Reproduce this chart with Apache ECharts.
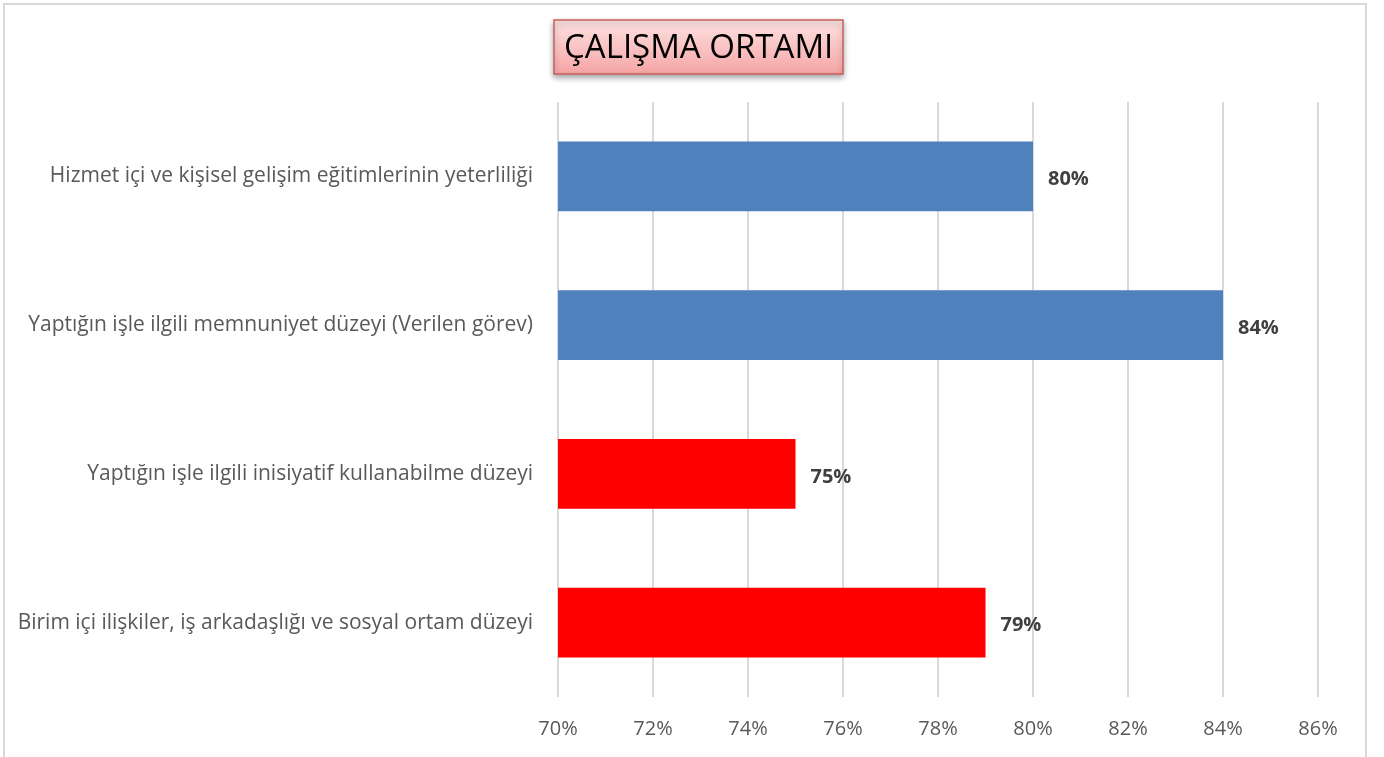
<!DOCTYPE html>
<html>
<head>
<meta charset="utf-8">
<style>
  html, body { margin: 0; padding: 0; background: #fff; }
  #frame { position: absolute; left: 3px; top: 3px; width: 1364px; height: 760px; border: 2px solid #d9d9d9; box-sizing: border-box; }
  #chart { position: absolute; left: 0; top: 0; width: 1384px; height: 757px; }
</style>
</head>
<body>
<div id="frame"></div>
<div id="chart"></div>
<script src="https://cdn.jsdelivr.net/npm/echarts@6/dist/echarts.min.js"></script>
<script type="text/javascript">
    // categories from bottom to top (as drawn on the y axis)
    const categories = [
        'Birim içi ilişkiler, iş arkadaşlığı ve sosyal ortam düzeyi',
        'Yaptığın işle ilgili inisiyatif kullanabilme düzeyi',
        'Yaptığın işle ilgili memnuniyet düzeyi (Verilen görev)',
        'Hizmet içi ve kişisel gelişim eğitimlerinin yeterliliği'
    ];
    const values = [79, 75, 84, 80];
    const barColors = ['#ff0000', '#ff0000', '#4f81bd', '#4f81bd'];
    const chartTitle = 'ÇALIŞMA ORTAMI';

    const font = '"Open Sans", sans-serif';
    const chart = echarts.init(document.getElementById('chart'));

    chart.setOption({
        animation: false,
        textStyle: { fontFamily: font },
        title: {
            text: chartTitle,
            left: 554,
            top: 20,
            padding: [9, 10, 5, 10],
            backgroundColor: new echarts.graphic.LinearGradient(0, 0, 0, 1, [
                { offset: 0, color: '#fde3e3' },
                { offset: 1, color: '#f6a4a4' }
            ]),
            borderColor: '#c9605c',
            borderWidth: 1.5,
            shadowBlur: 6,
            shadowColor: 'rgba(0,0,0,0.35)',
            shadowOffsetY: 3,
            textStyle: {
                fontFamily: font,
                fontSize: 33,
                lineHeight: 40,
                fontWeight: 'normal',
                color: '#000'
            }
        },
        grid: {
            left: 558,
            right: 66,
            top: 102,
            bottom: 60,
            containLabel: false
        },
        xAxis: {
            type: 'value',
            min: 70,
            max: 86,
            interval: 2,
            axisLine: { show: false },
            axisTick: { show: false },
            splitLine: { lineStyle: { color: '#d9d9d9', width: 2 } },
            axisLabel: {
                formatter: '{value}%',
                color: '#595959',
                fontSize: 20,
                margin: 22
            }
        },
        yAxis: {
            type: 'category',
            data: categories,
            axisLine: { show: false },
            axisTick: { show: false },
            axisLabel: {
                color: '#595959',
                fontSize: 21,
                margin: 25,
                padding: [5, 0, 0, 0]
            }
        },
        series: [{
            type: 'bar',
            barCategoryGap: '53%',
            data: values.map((v, i) => ({ value: v, itemStyle: { color: barColors[i] } })),
            label: {
                show: true,
                position: 'right',
                distance: 15,
                offset: [0, 3],
                formatter: '{c}%',
                fontWeight: 'bold',
                fontSize: 20,
                color: '#404040'
            }
        }]
    });
</script>
</body>
</html>
